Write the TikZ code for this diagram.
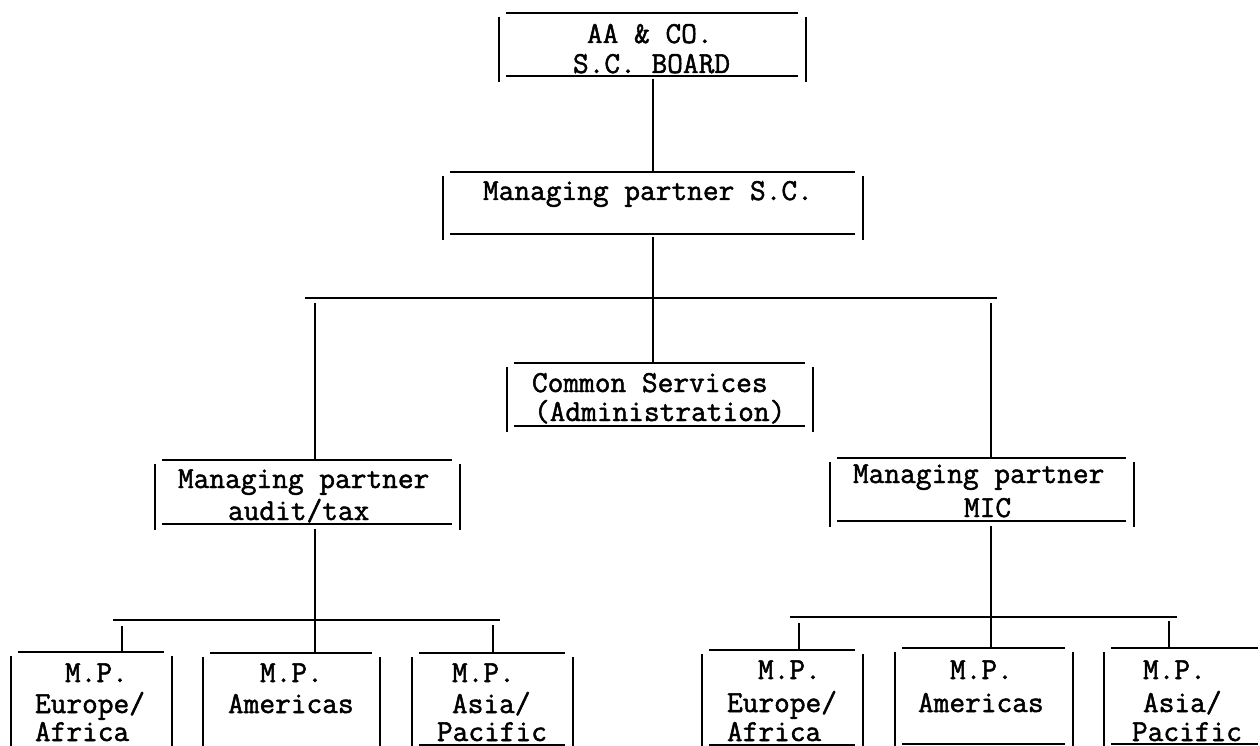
\documentclass[tikz,border=0pt]{standalone}
\usepackage{fontspec}
\newfontfamily\twfont{Latin Modern Mono}[FakeBold=1.6]
\usetikzlibrary{calc}
\newcommand\mkbox[5]{% name, left, top, right, bottom (pixels)
  \node[rectangle,inner sep=0pt,outer sep=0pt,
        minimum width={#4-#2},minimum height={#5-#3}]
        (#1) at ({(#2+#4)/2},{(#3+#5)/2}) {};}
\newcommand\sidesfull[1]{%
  \draw[hline] ([xshift=7pt]#1.north west) -- ([xshift=-8pt]#1.north east);
  \draw[hline] ([xshift=7pt]#1.south west) -- ([xshift=-8pt]#1.south east);
  \draw[vline] ([yshift=-4pt]#1.north west) -- ([yshift=-6pt]#1.south west);
  \draw[vline] ([yshift=-4pt]#1.north east) -- ([yshift=-6pt]#1.south east);}
\newcommand\sidesopen[1]{%
  \draw[hline] ([xshift=7pt]#1.north west) -- ([xshift=-8pt]#1.north east);
  \draw[vline] ([yshift=-4pt]#1.north west) -- (#1.south west);
  \draw[vline] ([yshift=-4pt]#1.north east) -- (#1.south east);}
\begin{document}
\begin{tikzpicture}[x=1pt,y=-1pt,
  hline/.style={line width=1.5pt},
  vline/.style={line width=2.5pt},
  conn/.style={line width=2pt},
  tw/.style={font=\twfont\bfseries\fontsize{30.5}{30.5}\selectfont,
             inner sep=0pt,outer sep=0pt,anchor=base west}]
\useasboundingbox (0,0) rectangle (1260,746);

% boxes
\mkbox{board}{499}{13}{806}{76}
\mkbox{mps}{443}{172}{863}{234}
\mkbox{common}{507}{363}{813}{426}
\mkbox{audit}{155}{460}{460}{524}
\mkbox{mic}{830}{458}{1134}{521}
\mkbox{eua}{11}{652}{172}{752}
\mkbox{ama}{203}{653}{380}{752}
\mkbox{asa}{412}{653}{573}{745}
\mkbox{eub}{702}{650}{863}{745}
\mkbox{amb}{895}{648}{1073}{744}
\mkbox{asb}{1104}{648}{1266}{744}

\foreach \b in {board,mps,common,audit,mic,asa,eub,amb,asb}{\sidesfull{\b}}
\foreach \b in {eua,ama}{\sidesopen{\b}}

% texts
\node[tw] (tb1) at (587,43) {AA \& CO.};
\node[tw] (tb2) at (573,73) {S.C. BOARD};
\node[tw] (tm1) at (483,200) {Managing partner S.C.};
\node[tw] (tc1) at (532,392) {Common Services};
\node[tw] (tc2) at (534,421) {(Administration)};
\node[tw] (ta1) at (178,488) {Managing partner};
\node[tw] (ta2) at (228,520) {audit/tax};
\node[tw] (ti1) at (853,483) {Managing partner};
\node[tw] (ti2) at (964,517) {MIC};
\node[tw] (e11) at (65,682) {M.P.};
\node[tw] (e12) at (35,713) {Europe/};
\node[tw] (e13) at (35,741) {Africa};
\node[tw] (a11) at (260,682) {M.P.};
\node[tw] (a12) at (228,713) {Americas};
\node[tw] (s11) at (452,682) {M.P.};
\node[tw] (s12) at (452,713) {Asia/};
\node[tw] (s13) at (437,741) {Pacific};
\node[tw] (e21) at (758,679) {M.P.};
\node[tw] (e22) at (727,712) {Europe/};
\node[tw] (e23) at (727,741) {Africa};
\node[tw] (a21) at (950,679) {M.P.};
\node[tw] (a22) at (918,712) {Americas};
\node[tw] (s21) at (1143,679) {M.P.};
\node[tw] (s22) at (1143,712) {Asia/};
\node[tw] (s23) at (1132,741) {Pacific};

% bars and junctions
\coordinate (barL) at (305,298);
\coordinate (barR) at (997,298);
\coordinate (jA) at (315,303);
\coordinate (jM) at (991,303);
\coordinate (sbL1) at (113,620);
\coordinate (sbL2) at (500,620);
\coordinate (sbR1) at (790,617);
\coordinate (sbR2) at (1177,617);
\coordinate (jE1) at (122,626);
\coordinate (jS1) at (493,625);
\coordinate (jE2) at (799,623);
\coordinate (jS2) at (1169,621);

\draw[conn] (barL) -- (barR);
\draw[conn] (sbL1) -- (sbL2);
\draw[conn] (sbR1) -- (sbR2);

% connectors
\draw[conn] ([yshift=-3pt]board.south) -- (board.south |- mps.north);
\draw[conn] ([yshift=-3pt]mps.south) -- (mps.south |- common.north);
\draw[conn] (jA) -- (jA |- audit.north);
\draw[conn] (jM) -- (jM |- mic.north);
\draw[conn] ([yshift=-5pt]jA |- audit.south) -- (jA |- ama.north);
\draw[conn] ([yshift=-5pt]jM |- mic.south) -- (jM |- amb.north);
\draw[conn] (jE1) -- (jE1 |- eua.north);
\draw[conn] (jS1) -- (jS1 |- asa.north);
\draw[conn] (jE2) -- (jE2 |- eub.north);
\draw[conn] (jS2) -- (jS2 |- asb.north);
\end{tikzpicture}
\end{document}
